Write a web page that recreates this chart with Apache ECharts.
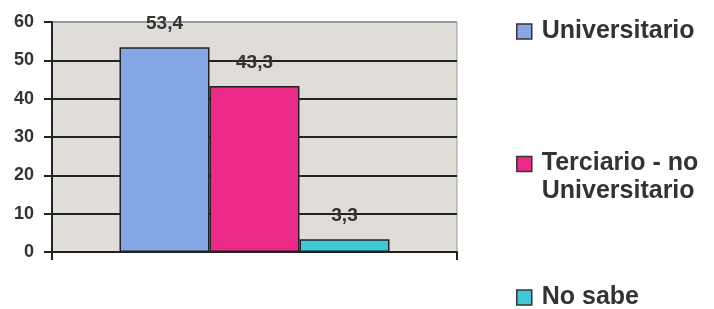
<!DOCTYPE html>
<html>
<head>
<meta charset="utf-8">
<script src="https://cdn.jsdelivr.net/npm/echarts@6/dist/echarts.min.js"></script>
<style>
  html, body { margin: 0; padding: 0; background: #fff; }
  #chart { width: 714px; height: 309px; }
</style>
</head>
<body>
<div id="chart"></div>
<script>
const categories = ['']
const seriesNames = ['Universitario', 'Terciario - no\nUniversitario', 'No sabe']
const seriesValues = [[53.4], [43.3], [3.3]]
const seriesColors = ['#86a7e6', '#ec2a88', '#3ec8d8']
const yTicks = { min: 0, max: 60, interval: 10 }

const chart = echarts.init(document.getElementById('chart'), null, { renderer: 'canvas' })

const legendTops = [19, 151, 285]
const legendText = {
  color: '#333',
  fontFamily: 'Liberation Sans, Arial, sans-serif',
  fontWeight: 'bold',
  fontSize: 25
}

chart.setOption({
  backgroundColor: '#fff',
  animation: false,
  grid: {
    left: 52,
    right: 257,
    top: 22,
    bottom: 57,
    show: true,
    backgroundColor: '#e0dcd8',
    borderColor: '#9a9a9a',
    borderWidth: 1
  },
  legend: seriesNames.map((name, i) => ({
    data: [{ name: name, icon: 'rect' }],
    left: 516,
    top: legendTops[i],
    padding: 0,
    itemWidth: 15,
    itemHeight: 15,
    selectedMode: false,
    itemStyle: { borderColor: '#333', borderWidth: 1.5 },
    formatter: n => {
      // two-line name: keep the icon level with the first line
      const parts = n.split('\n')
      if (parts.length < 2) return n
      return '{a|' + parts[0] + '}\n{b|' + parts[1] + '}'
    },
    textStyle: Object.assign({}, legendText, {
      padding: [0, 0, 0, 5],
      rich: {
        a: Object.assign({}, legendText, { lineHeight: 54 }),
        b: Object.assign({}, legendText, { lineHeight: 1 })
      }
    })
  })),
  xAxis: {
    type: 'category',
    data: categories,
    axisLine: { lineStyle: { color: '#222', width: 2 } },
    axisTick: { show: true, length: 8, lineStyle: { color: '#222', width: 2 } },
    axisLabel: { show: false }
  },
  yAxis: {
    type: 'value',
    min: yTicks.min,
    max: yTicks.max,
    interval: yTicks.interval,
    axisLine: { show: true, lineStyle: { color: '#222', width: 2 } },
    axisTick: { show: true, length: 8, lineStyle: { color: '#222', width: 2 } },
    axisLabel: {
      margin: 18,
      color: '#333',
      fontFamily: 'Liberation Sans, Arial, sans-serif',
      fontWeight: 'bold',
      fontSize: 18
    },
    splitLine: {
      show: true,
      lineStyle: {
        color: ['#222', '#222', '#222', '#222', '#222', '#222', '#9a9a9a'],
        width: 2
      }
    }
  },
  series: seriesNames.map((name, i) => ({
    name: name,
    type: 'bar',
    data: seriesValues[i],
    barWidth: 90,
    barGap: '0%',
    itemStyle: { color: seriesColors[i], borderColor: '#222', borderWidth: 1.5 },
    label: {
      show: true,
      position: 'top',
      distance: 14,
      color: '#333',
      fontFamily: 'Liberation Sans, Arial, sans-serif',
      fontWeight: 'bold',
      fontSize: 19,
      formatter: p => String(p.value).replace('.', ',')
    }
  }))
})
</script>
</body>
</html>
